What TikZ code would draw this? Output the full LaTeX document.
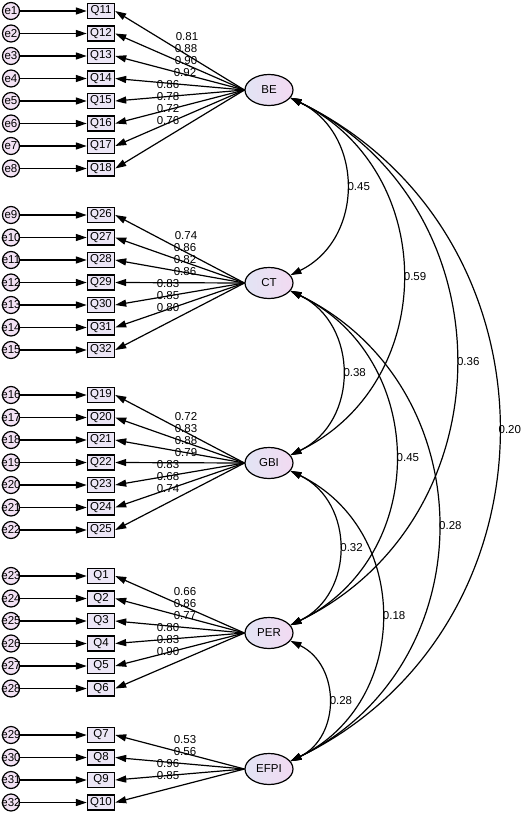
\documentclass[tikz,border=0pt]{standalone}
\usepackage{fontspec}
\setmainfont{Liberation Sans}
\usetikzlibrary{arrows.meta,shapes.geometric}
\definecolor{latleft}{RGB}{226,228,244}
\definecolor{latright}{RGB}{242,218,242}
\definecolor{obsfill}{RGB}{236,230,246}
\definecolor{errfill}{RGB}{242,226,244}

\begin{document}
\begin{tikzpicture}[
        x=1pt, y=-1pt,
        >={Triangle[length=11pt,width=7pt]},
        font=\fontsize{11.5}{13}\selectfont,
        latent/.style={draw, line width=1.2pt, ellipse, minimum width=48pt, minimum height=31pt, inner sep=0pt, left color=latleft, right color=latright},
        item/.style={draw, line width=1.4pt, fill=obsfill, minimum width=27pt, minimum height=15pt, inner sep=1pt},
        err/.style={draw, line width=1.2pt, circle, minimum size=17pt, inner sep=0pt, fill=errfill},
        load/.style={inner sep=0pt},
        path/.style={->, line width=1.2pt},
        cov/.style={<->, line width=1.2pt, out=-26, in=26, looseness=1.19}
    ]
        \useasboundingbox (0,0) rectangle (520,814);

        \node[latent] (BE) at (269,90) {BE};
        \node[latent] (CT) at (269,283) {CT};
        \node[latent] (GBI) at (269,463) {GBI};
        \node[latent] (PER) at (269,633) {PER};
        \node[latent] (EFPI) at (269,769) {EFPI};

        \foreach \q/\e/\y/\lv/\lx [count=\k] in {Q11/e1/11/0.81/187, Q12/e2/33.5/0.88/186, Q13/e3/56/0.90/186, Q14/e4/78.5/0.92/185,
                Q15/e5/101/0.86/168, Q16/e6/123.5/0.78/168, Q17/e7/146/0.72/168, Q18/e8/168.5/0.76/168} {
            \node[item] (\q) at (101,\y) {\q};
            \node[err, label=center:\e] (\e) at (11,\y) {};
            \draw[path] (\e) -- (\q);
            \draw[path] (BE.west) -- (\q.east);
            \node[load] at (\lx,{79+12*(\k-4.5)}) {\lv};
        }

        \foreach \q/\e/\y/\lv/\lx [count=\k] in {Q26/e9/215/0.74/186, Q27/e10/237.5/0.86/185, Q28/e11/260/0.82/185, Q29/e12/282.5/0.86/185,
                Q30/e13/305/0.83/168, Q31/e14/327.5/0.85/168, Q32/e15/350/0.80/168} {
            \node[item] (\q) at (101,\y) {\q};
            \node[err, label=center:\e] (\e) at (11,\y) {};
            \draw[path] (\e) -- (\q);
            \draw[path] (CT.west) -- (\q.east);
            \node[load] at (\lx,{272+12*(\k-4)}) {\lv};
        }

        \foreach \q/\e/\y/\lv/\lx [count=\k] in {Q19/e16/395/0.72/186, Q20/e17/417.5/0.83/186, Q21/e18/440/0.88/186, Q22/e19/462.5/0.79/186,
                Q23/e20/485/0.83/168, Q24/e21/507.5/0.68/168, Q25/e22/530/0.74/168} {
            \node[item] (\q) at (101,\y) {\q};
            \node[err, label=center:\e] (\e) at (11,\y) {};
            \draw[path] (\e) -- (\q);
            \draw[path] (GBI.west) -- (\q.east);
            \node[load] at (\lx,{453+12*(\k-4)}) {\lv};
        }

        \foreach \q/\e/\y/\lv/\lx [count=\k] in {Q1/e23/576/0.66/185, Q2/e24/598.5/0.86/185, Q3/e25/621/0.77/185,
                Q4/e26/643.5/0.80/168, Q5/e27/666/0.83/168, Q6/e28/688.5/0.90/168} {
            \node[item] (\q) at (101,\y) {\q};
            \node[err, label=center:\e] (\e) at (11,\y) {};
            \draw[path] (\e) -- (\q);
            \draw[path] (PER.west) -- (\q.east);
            \node[load] at (\lx,{622+12*(\k-3.5)}) {\lv};
        }

        \foreach \q/\e/\y/\lv/\lx [count=\k] in {Q7/e29/735/0.53/185, Q8/e30/757.5/0.56/185, Q9/e31/780/0.96/168, Q10/e32/802.5/0.85/168} {
            \node[item] (\q) at (101,\y) {\q};
            \node[err, label=center:\e] (\e) at (11,\y) {};
            \draw[path] (\e) -- (\q);
            \draw[path] (EFPI.west) -- (\q.east);
            \node[load] at (\lx,{758+12*(\k-2.5)}) {\lv};
        }

        \draw[cov] (BE.-20) to node[midway, anchor=west, inner sep=1pt] {0.45} (CT.20);
        \draw[cov] (BE.-20) to node[midway, anchor=west, inner sep=1pt] {0.59} (GBI.20);
        \draw[cov] (BE.-20) to node[midway, anchor=west, inner sep=1pt] {0.36} (PER.20);
        \draw[cov] (BE.-20) to node[midway, anchor=west, inner sep=0pt] {0.20} (EFPI.20);
        \draw[cov] (CT.-20) to node[midway, anchor=west, inner sep=1pt] {0.38} (GBI.20);
        \draw[cov] (CT.-20) to node[midway, anchor=west, inner sep=1pt] {0.45} (PER.20);
        \draw[cov] (CT.-20) to node[midway, anchor=west, inner sep=1pt] {0.28} (EFPI.20);
        \draw[cov] (GBI.-20) to node[midway, anchor=west, inner sep=1pt] {0.32} (PER.20);
        \draw[cov] (GBI.-20) to node[midway, anchor=west, inner sep=1pt] {0.18} (EFPI.20);
        \draw[cov] (PER.-20) to node[midway, anchor=west, inner sep=1pt] {0.28} (EFPI.20);
    \end{tikzpicture}
\end{document}
